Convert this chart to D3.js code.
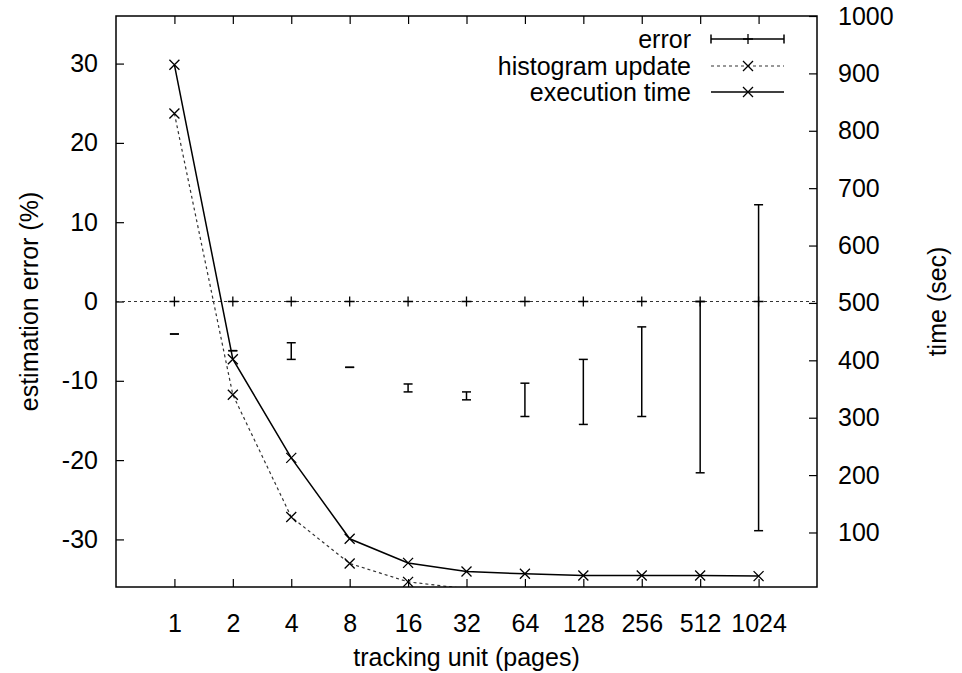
<!DOCTYPE html>
<html>
<head>
<meta charset="utf-8">
<script src="https://cdn.jsdelivr.net/npm/d3@7"></script>
<style>
  html, body { margin: 0; padding: 0; background: #fff; }
  svg text { font-family: "Liberation Sans", Arial, Helvetica, sans-serif; fill: #000; }
</style>
</head>
<body>
<svg id="chart" width="962" height="673"></svg>
<script>
// tracking unit sizes (pages)
const units = [1, 2, 4, 8, 16, 32, 64, 128, 256, 512, 1024];
const unitLabels = ["1", "2", "4", "8", "16", "32", "64", "128", "256", "512", "1024"];

// estimation error (%): point value and error bar extent
const errValue = [0, 0, 0, 0, 0, 0, 0, 0, 0, 0, 0];
const errLow  = [-4.1, -6.2, -7.3, -8.3, -11.4, -12.4, -14.5, -15.5, -14.5, -21.6, -28.9];
const errHigh = [-4.1, -6.2, -5.2, -8.3, -10.4, -11.4, -10.3, -7.3, -3.2, 0, 12.2];

// times (sec), right axis
const histUpdate = [830, 340, 127, 46, 14, 2, 2, 2, 2, 2, 2];
const execTime   = [915, 402, 230, 89, 47, 32, 28, 25, 25, 25, 24];

const leftTicks = [-30, -20, -10, 0, 10, 20, 30];
const rightTicks = [100, 200, 300, 400, 500, 600, 700, 800, 900, 1000];

const svg = d3.select("#chart");
const L = 116, R = 817, T = 16, B = 587;

const x = d3.scaleLog().base(2).domain([0.5, 2048]).range([L, R]);
const yL = d3.scaleLinear().domain([-36, 36]).range([B, T]);
const yR = d3.scaleLinear().domain([5, 1000]).range([B, T]);

const fontSize = 25;
const fmt = d => String(d); // plain hyphen-minus

// clip region for the plotted series
svg.append("defs").append("clipPath").attr("id", "plotClip")
  .append("rect").attr("x", L).attr("y", T).attr("width", R - L).attr("height", B - T);

function styleAxis(g) {
  g.select(".domain").remove();
  g.selectAll(".tick line").attr("stroke", "#000").attr("stroke-width", 1.2);
  g.selectAll(".tick text").attr("font-size", fontSize).attr("fill", "#000");
}

// bottom axis (ticks point inward)
svg.append("g").attr("transform", `translate(0,${B})`)
  .call(d3.axisBottom(x).tickValues(units).tickFormat((d, i) => unitLabels[i])
    .tickSizeInner(-8).tickSizeOuter(0).tickPadding(27))
  .call(styleAxis);

// top mirror ticks
svg.append("g").attr("transform", `translate(0,${T})`)
  .call(d3.axisTop(x).tickValues(units).tickFormat("").tickSizeInner(-8).tickSizeOuter(0))
  .call(styleAxis);

// left axis
svg.append("g").attr("transform", `translate(${L},0)`)
  .call(d3.axisLeft(yL).tickValues(leftTicks).tickFormat(fmt)
    .tickSizeInner(-8).tickSizeOuter(0).tickPadding(18))
  .call(styleAxis);

// right axis
svg.append("g").attr("transform", `translate(${R},0)`)
  .call(d3.axisRight(yR).tickValues(rightTicks).tickFormat(fmt)
    .tickSizeInner(-8).tickSizeOuter(0).tickPadding(21))
  .call(styleAxis);

// zero line
svg.append("line")
  .attr("x1", L).attr("x2", R).attr("y1", yL(0)).attr("y2", yL(0))
  .attr("stroke", "#333").attr("stroke-width", 1).attr("stroke-dasharray", "3,3");

const plot = svg.append("g").attr("clip-path", "url(#plotClip)");

function crossMark(g, cx, cy, r) {
  g.append("path")
    .attr("d", `M${cx - r},${cy - r}L${cx + r},${cy + r}M${cx - r},${cy + r}L${cx + r},${cy - r}`)
    .attr("stroke", "#000").attr("stroke-width", 1.3).attr("fill", "none");
}
function plusMark(g, cx, cy, r) {
  g.append("path")
    .attr("d", `M${cx - r},${cy}L${cx + r},${cy}M${cx},${cy - r}L${cx},${cy + r}`)
    .attr("stroke", "#000").attr("stroke-width", 1.3).attr("fill", "none");
}

// error bars
units.forEach((u, i) => {
  const cx = x(u);
  const y1 = yL(errLow[i]), y2 = yL(errHigh[i]);
  const bar = plot.append("g").attr("stroke", "#000").attr("stroke-width", 1.5);
  bar.append("line").attr("x1", cx).attr("x2", cx).attr("y1", y1).attr("y2", y2);
  bar.append("line").attr("x1", cx - 4.5).attr("x2", cx + 4.5).attr("y1", y1).attr("y2", y1);
  bar.append("line").attr("x1", cx - 4.5).attr("x2", cx + 4.5).attr("y1", y2).attr("y2", y2);
  plusMark(plot, cx, yL(errValue[i]), 5);
});

// only points inside the right-axis range get a marker
const inRange = v => v >= yR.domain()[0] && v <= yR.domain()[1];

// histogram update (dotted)
const lineR = d3.line().x((d, i) => x(units[i])).y(d => yR(d));
plot.append("path").datum(histUpdate).attr("d", lineR)
  .attr("fill", "none").attr("stroke", "#333").attr("stroke-width", 1.2)
  .attr("stroke-dasharray", "3,3");
histUpdate.forEach((v, i) => { if (inRange(v)) crossMark(plot, x(units[i]), yR(v), 5); });

// execution time (solid)
plot.append("path").datum(execTime).attr("d", lineR)
  .attr("fill", "none").attr("stroke", "#000").attr("stroke-width", 1.5);
execTime.forEach((v, i) => { if (inRange(v)) crossMark(plot, x(units[i]), yR(v), 5); });

// frame
svg.append("rect").attr("x", L).attr("y", T).attr("width", R - L).attr("height", B - T)
  .attr("fill", "none").attr("stroke", "#000").attr("stroke-width", 1.5);

// axis titles
svg.append("text").attr("x", (L + R) / 2).attr("y", 666).attr("text-anchor", "middle")
  .attr("font-size", fontSize).text("tracking unit (pages)");
svg.append("text").attr("transform", `translate(38,${(T + B) / 2}) rotate(-90)`)
  .attr("text-anchor", "middle").attr("font-size", fontSize).text("estimation error (%)");
svg.append("text").attr("transform", `translate(946,${(T + B) / 2}) rotate(-90)`)
  .attr("text-anchor", "middle").attr("font-size", fontSize).text("time (sec)");

// legend
const legend = [
  { label: "error", kind: "err", y: 39 },
  { label: "histogram update", kind: "hist", y: 66 },
  { label: "execution time", kind: "exec", y: 92 }
];
const lg = svg.append("g");
const sx1 = 711, sx2 = 784, smid = 748;
legend.forEach(item => {
  lg.append("text").attr("x", 691).attr("y", item.y).attr("dy", "0.35em")
    .attr("text-anchor", "end").attr("font-size", fontSize).text(item.label);
  if (item.kind === "err") {
    const g = lg.append("g").attr("stroke", "#000").attr("stroke-width", 1.5);
    g.append("line").attr("x1", sx1).attr("x2", sx2).attr("y1", item.y).attr("y2", item.y);
    g.append("line").attr("x1", sx1).attr("x2", sx1).attr("y1", item.y - 4.5).attr("y2", item.y + 4.5);
    g.append("line").attr("x1", sx2).attr("x2", sx2).attr("y1", item.y - 4.5).attr("y2", item.y + 4.5);
    plusMark(lg, smid, item.y, 5);
  } else if (item.kind === "hist") {
    lg.append("line").attr("x1", sx1).attr("x2", sx2).attr("y1", item.y).attr("y2", item.y)
      .attr("stroke", "#333").attr("stroke-width", 1.2).attr("stroke-dasharray", "3,3");
    crossMark(lg, smid, item.y, 5);
  } else {
    lg.append("line").attr("x1", sx1).attr("x2", sx2).attr("y1", item.y).attr("y2", item.y)
      .attr("stroke", "#000").attr("stroke-width", 1.5);
    crossMark(lg, smid, item.y, 5);
  }
});
</script>
</body>
</html>
